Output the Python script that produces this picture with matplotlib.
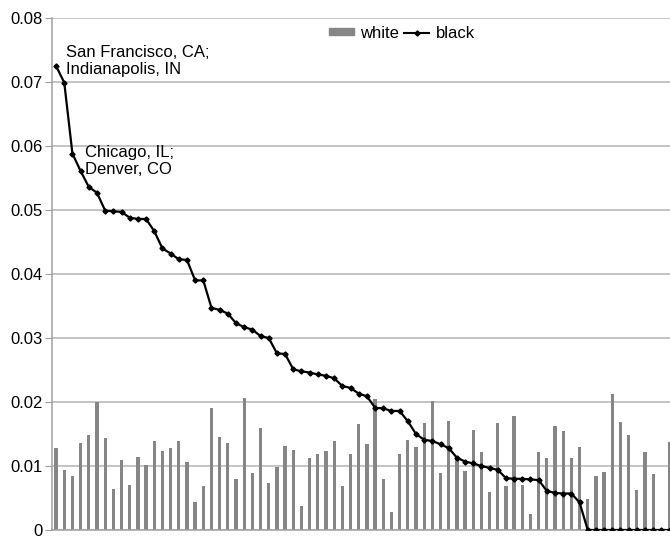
import numpy as np
import matplotlib
matplotlib.use("Agg")
import matplotlib.pyplot as plt
from matplotlib.lines import Line2D
from matplotlib.patches import Patch

plt.rcParams["font.family"] = ["Liberation Sans", "DejaVu Sans"]

# share per city, white vs black (76 cities, sorted by black share)
white = [0.0128, 0.0094, 0.0085, 0.0136, 0.0149, 0.0200, 0.0143, 0.0064, 0.0110, 0.0070,
         0.0114, 0.0101, 0.0139, 0.0123, 0.0128, 0.0139, 0.0106, 0.0044, 0.0068, 0.0191,
         0.0146, 0.0136, 0.0079, 0.0206, 0.0089, 0.0160, 0.0073, 0.0098, 0.0131, 0.0125,
         0.0038, 0.0112, 0.0119, 0.0123, 0.0139, 0.0068, 0.0118, 0.0165, 0.0134, 0.0205,
         0.0079, 0.0028, 0.0119, 0.0141, 0.0130, 0.0167, 0.0201, 0.0089, 0.0171, 0.0112,
         0.0092, 0.0157, 0.0122, 0.0060, 0.0167, 0.0068, 0.0178, 0.0070, 0.0025, 0.0122,
         0.0113, 0.0163, 0.0155, 0.0113, 0.0130, 0.0049, 0.0084, 0.0091, 0.0213, 0.0169,
         0.0148, 0.0063, 0.0122, 0.0088, 0.0, 0.0138]
black = [0.0725, 0.0699, 0.0588, 0.0561, 0.0536, 0.0527, 0.0499, 0.0498, 0.0497, 0.0488,
         0.0486, 0.0486, 0.0467, 0.0440, 0.0432, 0.0423, 0.0422, 0.0390, 0.0390, 0.0347,
         0.0344, 0.0338, 0.0323, 0.0317, 0.0313, 0.0303, 0.0300, 0.0276, 0.0275, 0.0251,
         0.0248, 0.0246, 0.0243, 0.0241, 0.0237, 0.0225, 0.0222, 0.0213, 0.0209, 0.0191,
         0.0190, 0.0186, 0.0186, 0.0170, 0.0150, 0.0141, 0.0139, 0.0134, 0.0128, 0.0113,
         0.0107, 0.0104, 0.0100, 0.0097, 0.0094, 0.0081, 0.0080, 0.0080, 0.0079, 0.0078,
         0.0061, 0.0058, 0.0057, 0.0057, 0.0043, 0.0, 0.0, 0.0, 0.0, 0.0,
         0.0, 0.0, 0.0, 0.0, 0.0, 0.0]
yticks = [0, 0.01, 0.02, 0.03, 0.04, 0.05, 0.06, 0.07, 0.08]
ytick_labels = ["0", "0.01", "0.02", "0.03", "0.04", "0.05", "0.06", "0.07", "0.08"]

x = np.arange(len(black))

fig = plt.figure(figsize=(6.7, 5.36), dpi=100)
ax = fig.add_axes([0.0776, 0.0112, 0.9278, 0.9552])

ax.bar(x, white, width=0.4, color="#868686", zorder=2)
ax.plot(x, black, color="black", lw=1.6, marker="D", markersize=2.6, zorder=3)

ax.set_xlim(-0.5, len(black) - 0.5)
ax.set_ylim(0, 0.08)
ax.set_yticks(yticks)
ax.set_yticklabels(ytick_labels, fontsize=12)
ax.set_xticks([])
ax.yaxis.grid(True, color="#b4b4b4", lw=1.1, zorder=0)
ax.set_axisbelow(True)
ax.tick_params(axis="y", direction="out", length=5, color="#a0a0a0", pad=2)
for s in ["top", "right"]:
    ax.spines[s].set_visible(False)
for s in ["left", "bottom"]:
    ax.spines[s].set_color("#a0a0a0")
    ax.spines[s].set_linewidth(1.1)

# city labels next to the top points
ax.text(1.2, 0.0758, "San Francisco, CA;\nIndianapolis, IN", fontsize=12,
        va="top", ha="left", linespacing=1.15)
ax.text(3.55, 0.0602, "Chicago, IL;\nDenver, CO", fontsize=12,
        va="top", ha="left", linespacing=1.15)

handles = [Patch(color="#868686"),
           Line2D([], [], color="black", lw=1.5, marker="D", markersize=2.6)]
ax.legend(handles, ["white", "black"], ncol=2, frameon=False, fontsize=12,
          loc="center", bbox_to_anchor=(0.563, 0.9707), handlelength=1.5,
          handletextpad=0.4, columnspacing=0.3, handleheight=0.35,
          borderpad=0, borderaxespad=0)

fig.savefig("out.png", dpi=100)
